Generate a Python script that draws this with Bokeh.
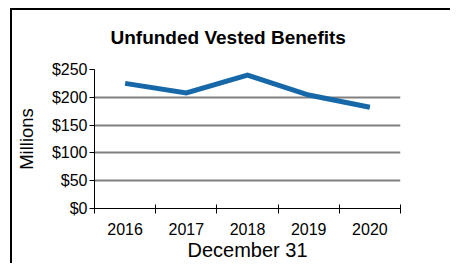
from bokeh.plotting import figure
from bokeh.models import FixedTicker, Range1d, Title
from bokeh.embed import file_html
from bokeh.resources import INLINE

years = ["2016", "2017", "2018", "2019", "2020"]
values = [225, 208, 240, 204, 182]
y_ticks = [0, 50, 100, 150, 200, 250]
y_labels = ["$0", "$50", "$100", "$150", "$200", "$250"]
title_text = "Unfunded Vested Benefits"
x_title = "December 31"
y_title = "Millions"

xs = [i + 0.5 for i in range(len(years))]

p = figure(width=450, height=263, output_backend="svg", toolbar_location=None,
           x_range=Range1d(0, len(years)), y_range=Range1d(0, 250),
           min_border_left=94, min_border_right=50, min_border_top=69, min_border_bottom=55)
p.outline_line_color = None
p.background_fill_color = "white"
p.border_fill_color = None
# outer chart border (left and top edges visible), drawn behind the transparent canvas border
p.styles = {
    "background": "linear-gradient(#000,#000) 10px 8px / 2px 400px no-repeat, "
                  "linear-gradient(#000,#000) 10px 8px / 600px 2px no-repeat, #fff"
}

p.line(xs, values, line_color="#1668a8", line_width=5, line_join="miter", line_cap="butt")

font = "Liberation Sans"
# x axis
p.xaxis.ticker = FixedTicker(ticks=xs, minor_ticks=list(range(len(years) + 1)))
p.xaxis.major_label_overrides = {x: y for x, y in zip(xs, years)}
p.xaxis.major_tick_in = 0
p.xaxis.major_tick_out = 0
p.xaxis.minor_tick_in = 4
p.xaxis.minor_tick_out = 5
p.xaxis.minor_tick_line_color = "black"
p.xaxis.axis_line_color = "black"
p.xaxis.major_label_text_font = font
p.xaxis.major_label_text_font_size = "16px"
p.xaxis.major_label_text_color = "black"
p.xaxis.major_label_standoff = 9
p.xaxis.axis_label = x_title
p.xaxis.axis_label_text_font = font
p.xaxis.axis_label_text_font_size = "20px"
p.xaxis.axis_label_text_font_style = "normal"
p.xaxis.axis_label_text_color = "black"
p.xaxis.axis_label_standoff = 1

# y axis
p.yaxis.ticker = FixedTicker(ticks=y_ticks, minor_ticks=[])
p.yaxis.major_label_overrides = {t: l for t, l in zip(y_ticks, y_labels)}
p.yaxis.major_tick_in = 0
p.yaxis.major_tick_out = 5
p.yaxis.major_tick_line_color = "black"
p.yaxis.axis_line_color = "black"
p.yaxis.major_label_text_font = font
p.yaxis.major_label_text_font_size = "16px"
p.yaxis.major_label_text_color = "black"
p.yaxis.major_label_standoff = 2
p.yaxis.axis_label = y_title
p.yaxis.axis_label_text_font = font
p.yaxis.axis_label_text_font_size = "18.5px"
p.yaxis.axis_label_text_font_style = "normal"
p.yaxis.axis_label_text_color = "black"
p.yaxis.axis_label_standoff = 12

p.xgrid.grid_line_color = None
p.ygrid.ticker = FixedTicker(ticks=y_ticks[1:])
p.ygrid.grid_line_color = "#808080"
p.ygrid.grid_line_width = 2

p.title = Title(text=title_text, align="left", offset=16,
                text_font=font, text_font_size="19px", text_font_style="bold",
                text_color="black", standoff=44)

open("out.html", "w").write(file_html(p, INLINE))
